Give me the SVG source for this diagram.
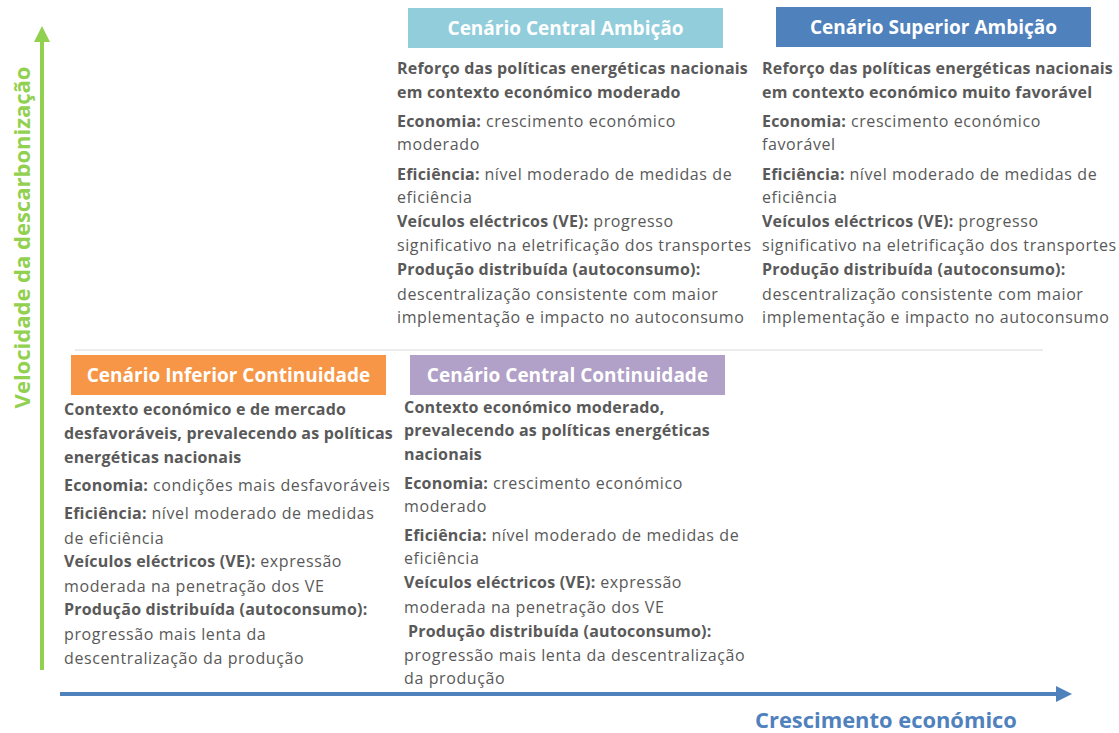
<svg xmlns="http://www.w3.org/2000/svg" width="1119" height="733" viewBox="0 0 1119 733">
<style>
.t{font-family:"Open Sans","Liberation Sans",sans-serif;font-size:16px;letter-spacing:0.6px;fill:#595959}
.b{font-weight:700;letter-spacing:0.2px}
.h{font-family:"Open Sans","Liberation Sans",sans-serif;font-size:19px;font-weight:700;fill:#ffffff;text-anchor:middle}
.ax{font-family:"Open Sans","Liberation Sans",sans-serif;font-weight:700}
</style>
<defs>
<marker id="ag" markerWidth="4" markerHeight="4" refX="1" refY="2" orient="auto" markerUnits="strokeWidth"><path d="M0,0 L4,2 L0,4 Z" fill="#92D050"/></marker>
<marker id="ab" markerWidth="4" markerHeight="4" refX="1" refY="2" orient="auto" markerUnits="strokeWidth"><path d="M0,0 L4,2 L0,4 Z" fill="#4F81BD"/></marker>
</defs>
<rect width="1119" height="733" fill="#ffffff"/>
<g id="connectors">
<line x1="42" y1="670" x2="42" y2="38" stroke="#92D050" stroke-width="4" marker-end="url(#ag)"/>
<line x1="60" y1="694" x2="1060" y2="694" stroke="#4F81BD" stroke-width="4" marker-end="url(#ab)"/>
<line x1="75" y1="350" x2="1043" y2="350" stroke="#D9D9D9" stroke-width="1"/>
</g>
<g id="axis-y"><text class="ax" font-size="22" fill="#92D050" text-anchor="middle" transform="translate(30,237.5) rotate(-90)">Velocidade da descarbonização</text></g>
<g id="axis-x"><text class="ax" font-size="21.9" fill="#4F81BD" x="755" y="728">Crescimento económico</text></g>
<g id="central-ambicao">
<rect x="408" y="8" width="315" height="40" fill="#92CDDC"/>
<text class="h" x="565.5" y="35">Cenário Central Ambição</text>
<text class="t" x="397">
<tspan class="b" x="397" y="74">Reforço das políticas energéticas nacionais</tspan>
<tspan class="b" x="397" y="98">em contexto económico moderado</tspan>
<tspan x="397" y="127"><tspan class="b">Economia:</tspan> crescimento económico</tspan>
<tspan x="397" y="150">moderado</tspan>
<tspan x="397" y="180"><tspan class="b">Eficiência:</tspan> nível moderado de medidas de</tspan>
<tspan x="397" y="203">eficiência</tspan>
<tspan x="397" y="227"><tspan class="b">Veículos eléctricos (VE):</tspan> progresso</tspan>
<tspan x="397" y="251">significativo na eletrificação dos transportes</tspan>
<tspan class="b" x="397" y="275">Produção distribuída (autoconsumo):</tspan>
<tspan x="397" y="300">descentralização consistente com maior</tspan>
<tspan x="397" y="323">implementação e impacto no autoconsumo</tspan>
</text>
</g>
<g id="superior-ambicao">
<rect x="776" y="7" width="315" height="40" fill="#4F81BD"/>
<text class="h" x="933.5" y="34">Cenário Superior Ambição</text>
<text class="t" x="762">
<tspan class="b" x="762" y="74">Reforço das políticas energéticas nacionais</tspan>
<tspan class="b" x="762" y="98">em contexto económico muito favorável</tspan>
<tspan x="762" y="127"><tspan class="b">Economia:</tspan> crescimento económico</tspan>
<tspan x="762" y="150">favorável</tspan>
<tspan x="762" y="180"><tspan class="b">Eficiência:</tspan> nível moderado de medidas de</tspan>
<tspan x="762" y="203">eficiência</tspan>
<tspan x="762" y="227"><tspan class="b">Veículos eléctricos (VE):</tspan> progresso</tspan>
<tspan x="762" y="251">significativo na eletrificação dos transportes</tspan>
<tspan class="b" x="762" y="275">Produção distribuída (autoconsumo):</tspan>
<tspan x="762" y="300">descentralização consistente com maior</tspan>
<tspan x="762" y="323">implementação e impacto no autoconsumo</tspan>
</text>
</g>
<g id="inferior-continuidade">
<rect x="71" y="355" width="315" height="40" fill="#F79646"/>
<text class="h" x="228.5" y="382">Cenário Inferior Continuidade</text>
<text class="t" x="64">
<tspan class="b" x="64" y="415">Contexto económico e de mercado</tspan>
<tspan class="b" x="64" y="439">desfavoráveis, prevalecendo as políticas</tspan>
<tspan class="b" x="64" y="463">energéticas nacionais</tspan>
<tspan x="64" y="491"><tspan class="b">Economia:</tspan> condições mais desfavoráveis</tspan>
<tspan x="64" y="519"><tspan class="b">Eficiência:</tspan> nível moderado de medidas</tspan>
<tspan x="64" y="544">de eficiência</tspan>
<tspan x="64" y="567"><tspan class="b">Veículos eléctricos (VE):</tspan> expressão</tspan>
<tspan x="64" y="592">moderada na penetração dos VE</tspan>
<tspan class="b" x="64" y="615">Produção distribuída (autoconsumo):</tspan>
<tspan x="64" y="640">progressão mais lenta da</tspan>
<tspan x="64" y="664">descentralização da produção</tspan>
</text>
</g>
<g id="central-continuidade">
<rect x="410" y="355" width="315" height="40" fill="#B1A0C7"/>
<text class="h" x="567.5" y="382">Cenário Central Continuidade</text>
<text class="t" x="404">
<tspan class="b" x="404" y="413">Contexto económico moderado,</tspan>
<tspan class="b" x="404" y="436">prevalecendo as políticas energéticas</tspan>
<tspan class="b" x="404" y="460">nacionais</tspan>
<tspan x="404" y="489"><tspan class="b">Economia:</tspan> crescimento económico</tspan>
<tspan x="404" y="512">moderado</tspan>
<tspan x="404" y="541"><tspan class="b">Eficiência:</tspan> nível moderado de medidas de</tspan>
<tspan x="404" y="564">eficiência</tspan>
<tspan x="404" y="588"><tspan class="b">Veículos eléctricos (VE):</tspan> expressão</tspan>
<tspan x="404" y="613">moderada na penetração dos VE</tspan>
<tspan class="b" x="408" y="637">Produção distribuída (autoconsumo):</tspan>
<tspan x="404" y="661">progressão mais lenta da descentralização</tspan>
<tspan x="404" y="684">da produção</tspan>
</text>
</g>
</svg>
